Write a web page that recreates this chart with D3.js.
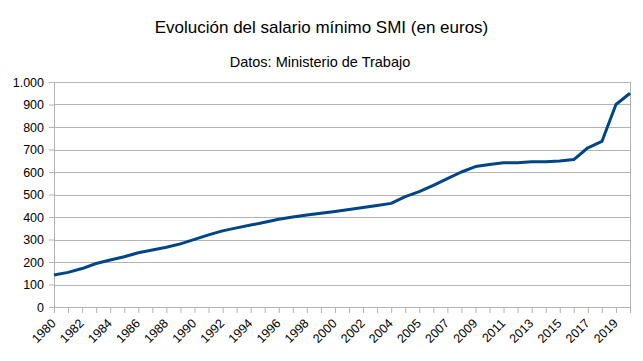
<!DOCTYPE html>
<html>
<head>
<meta charset="utf-8">
<script src="https://cdn.jsdelivr.net/npm/d3@7"></script>
<style>
  body { margin: 0; background: #fff; }
  svg { display: block; font-family: "Liberation Sans", Arial, sans-serif; }
</style>
</head>
<body>
<div id="chart"></div>
<script>
// size of the drawing area
var svgWidth = 643;
var svgHeight = 361;

var margin = { top: 82, right: 13, bottom: 54, left: 54 };
var chartWidth = svgWidth - margin.left - margin.right;
var chartHeight = 307 - margin.top;

// data: years (2004 appears twice, two revisions that year)
var years = ["1980","1981","1982","1983","1984","1985","1986","1987","1988","1989",
             "1990","1991","1992","1993","1994","1995","1996","1997","1998","1999",
             "2000","2001","2002","2003","2004","2004b","2005","2006","2007","2008",
             "2009","2010","2011","2012","2013","2014","2015","2016","2017","2018",
             "2019","2020"];
var smi = [142.44, 153.98, 170.93, 193.29, 208.79, 223.40, 241.25, 253.33, 265.41, 280.55,
           300.57, 320.40, 338.25, 351.77, 364.03, 376.83, 390.18, 400.45, 408.93, 416.32,
           424.80, 433.45, 442.20, 451.20, 460.50, 490.80, 513.00, 540.90, 570.60, 600.00,
           624.00, 633.30, 641.40, 641.40, 645.30, 645.30, 648.60, 655.20, 707.70, 735.90,
           900.00, 950.00];
var yTicks = [0, 100, 200, 300, 400, 500, 600, 700, 800, 900, 1000];

var svg = d3.select("#chart").append("svg")
  .attr("width", svgWidth)
  .attr("height", svgHeight);

// titles
svg.append("text")
  .attr("x", 321.5).attr("y", 33)
  .attr("text-anchor", "middle")
  .style("font-size", "17px")
  .text("Evolución del salario mínimo SMI (en euros)");
svg.append("text")
  .attr("x", 320).attr("y", 66.5)
  .attr("text-anchor", "middle")
  .style("font-size", "14.5px")
  .text("Datos: Ministerio de Trabajo");

var chartGroup = svg.append("g")
  .attr("transform", `translate(${margin.left}, ${margin.top})`);

var xScale = d3.scalePoint().domain(years).range([0, chartWidth]);
var yScale = d3.scaleLinear().domain([0, 1000]).range([chartHeight, 0]);

var gridColor = "#b3b3b3";

// horizontal gridlines
chartGroup.append("g")
  .selectAll("line")
  .data(yTicks.filter(d => d > 0))
  .enter().append("line")
  .attr("x1", 0).attr("x2", chartWidth)
  .attr("y1", d => Math.round(yScale(d)) + 0.5)
  .attr("y2", d => Math.round(yScale(d)) + 0.5)
  .attr("stroke", gridColor);

// right border
chartGroup.append("line")
  .attr("x1", chartWidth + 0.5).attr("x2", chartWidth + 0.5)
  .attr("y1", 0).attr("y2", chartHeight)
  .attr("stroke", gridColor);

// y axis
var leftAxis = d3.axisLeft(yScale)
  .tickValues(yTicks)
  .tickSize(5)
  .tickPadding(5)
  .tickFormat(d => d3.format(",")(d).replace(",", "."));
var yAxis = chartGroup.append("g").call(leftAxis);
yAxis.select(".domain").remove();
yAxis.append("line")
  .attr("x1", 0.5).attr("x2", 0.5)
  .attr("y1", 0).attr("y2", chartHeight + 0.5)
  .attr("stroke", gridColor);

// x axis
var bottomAxis = d3.axisBottom(xScale)
  .tickSize(6)
  .tickSizeOuter(0)
  .tickFormat((d, i) => i % 2 === 0 ? d : "");
var xAxis = chartGroup.append("g")
  .attr("transform", `translate(0, ${chartHeight})`)
  .call(bottomAxis);

[yAxis, xAxis].forEach(function(ax) {
  ax.selectAll(".tick line").attr("stroke", gridColor);
  ax.selectAll(".domain").attr("stroke", gridColor);
  ax.selectAll("text")
    .attr("fill", "#000")
    .style("font-size", "12.5px")
    .style("font-family", "'Liberation Sans', Arial, sans-serif");
});

xAxis.selectAll(".tick text")
  .attr("text-anchor", "end")
  .attr("x", 0)
  .attr("y", 0)
  .attr("dy", "0.35em")
  .attr("transform", "translate(-1, 14) rotate(-45)");

// the line
var line = d3.line()
  .x((d, i) => xScale(years[i]))
  .y(d => yScale(d));

chartGroup.append("path")
  .datum(smi)
  .attr("d", line)
  .attr("fill", "none")
  .attr("stroke", "#004586")
  .attr("stroke-width", 3)
  .attr("stroke-linejoin", "round");
</script>
</body>
</html>
